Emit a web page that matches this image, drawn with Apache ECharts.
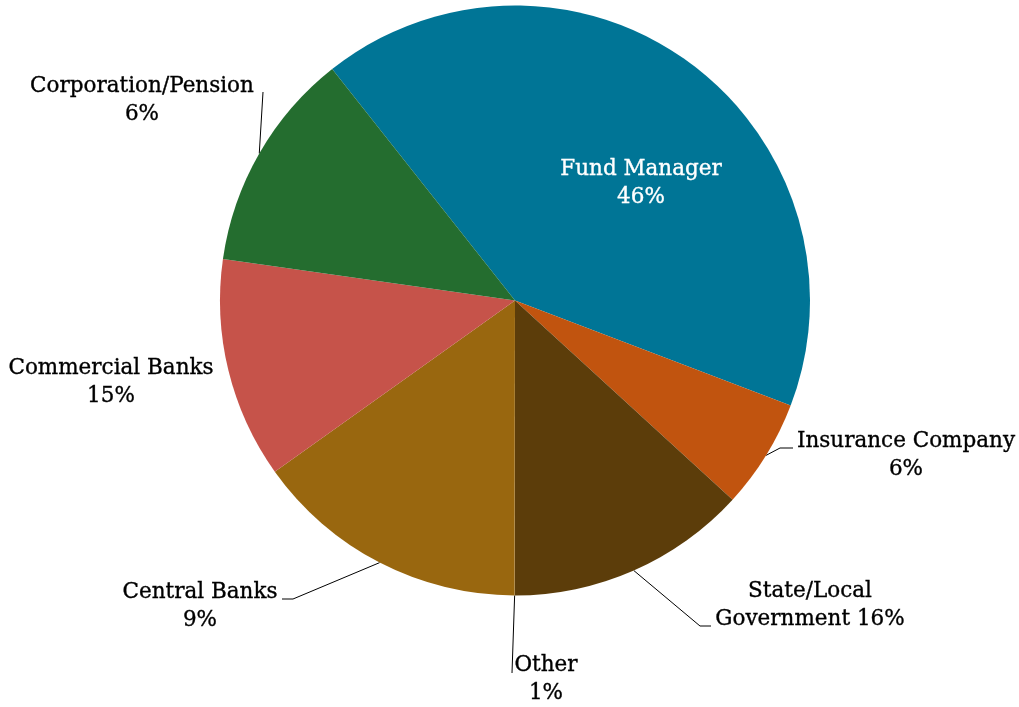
<!DOCTYPE html>
<html><head><meta charset="utf-8">
<script src="https://cdn.jsdelivr.net/npm/echarts@6/dist/echarts.min.js"></script>
<style>html,body{margin:0;padding:0;background:#fff}#c{width:1019px;height:707px}</style>
</head><body><div id="c"></div>
<script>
// Data
const categories = ['Fund Manager', 'Insurance Company', 'State/Local Government', 'Other', 'Central Banks', 'Commercial Banks', 'Corporation/Pension'];
const sliceValues = [41.4, 6.0, 13.2, 0.02, 15.1, 12.1, 12.1];
const labelPercents = ['46%', '6%', '16%', '1%', '9%', '15%', '6%'];
const labelNames = ['Fund Manager', 'Insurance Company', 'State/Local\nGovernment', 'Other', 'Central Banks', 'Commercial Banks', 'Corporation/Pension'];
const labelJoin = ['\n', '\n', ' ', '\n', '\n', '\n', '\n'];
const colors = ['#007596', '#C1540F', '#5C3D0A', '#99670F', '#99670F', '#C6534A', '#246D2F'];

// Layout (label anchor positions & leader elbows)
const labelPos = [[641, 183], [906, 455], [810, 605], [546, 679], [200, 606], [111, 382], [142, 100]];
const lineTail = [null, [[780, 448], [793, 448]], [[700, 626], [711, 626]], [[512, 673], [512, 673]], [[293, 599], [282, 599]], null, [[263, 92], [263, 92]]];

const chart = echarts.init(document.getElementById('c'), null, {renderer: 'canvas'});
const data = categories.map((c, i) => ({
  name: c,
  value: sliceValues[i],
  itemStyle: {color: colors[i]},
  label: {
    formatter: labelNames[i] + labelJoin[i] + labelPercents[i],
    color: i === 0 ? '#ffffff' : '#000000',
    textBorderColor: i === 0 ? '#ffffff' : '#000000',
    textBorderWidth: 0.35
  },
  labelLine: {show: lineTail[i] != null}
}));

chart.setOption({
  animation: false,
  backgroundColor: '#ffffff',
  series: [{
    type: 'pie',
    center: [515, 300.5],
    radius: 295,
    startAngle: 128.3,
    clockwise: true,
    avoidLabelOverlap: false,
    silent: true,
    itemStyle: {borderWidth: 0},
    label: {
      show: true,
      position: 'outside',
      fontFamily: 'DejaVu Serif',
      fontSize: 21.5,
      lineHeight: 28,
      align: 'center'
    },
    labelLine: {show: true, lineStyle: {color: '#000', width: 1}},
    labelLayout: function (p) {
      const i = p.dataIndex;
      const out = {x: labelPos[i][0], y: labelPos[i][1], align: 'center', verticalAlign: 'middle'};
      if (lineTail[i] && p.labelLinePoints) {
        out.labelLinePoints = [p.labelLinePoints[0], lineTail[i][0], lineTail[i][1]];
      }
      return out;
    },
    data: data
  }]
});
</script>
</body></html>
